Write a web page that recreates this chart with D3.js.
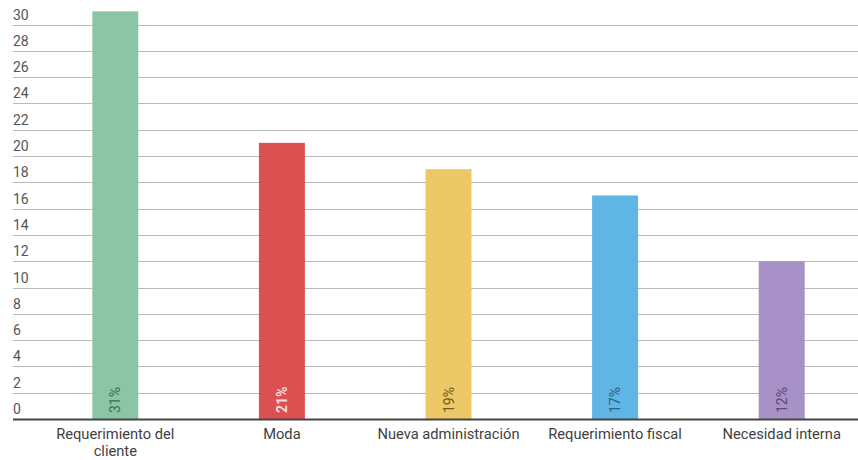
<!DOCTYPE html>
<html>
<head>
<meta charset="utf-8">
<script src="https://cdn.jsdelivr.net/npm/d3@7"></script>
<style>
  body { margin: 0; background: #fff; }
  svg { display: block; font-family: Roboto, "Noto Sans", sans-serif; }
</style>
</head>
<body>
<div id="chart"></div>
<script>
// chart data
var categories = ["Requerimiento del cliente", "Moda", "Nueva administración", "Requerimiento fiscal", "Necesidad interna"];
var values = [31, 21, 19, 17, 12];
var pctLabels = ["31%", "21%", "19%", "17%", "12%"];
var yTicks = [0, 2, 4, 6, 8, 10, 12, 14, 16, 18, 20, 22, 24, 26, 28, 30];

var barColors = ["#8cc4a6", "#db5152", "#ecc966", "#5fb5e4", "#a891c7"];
var labelColors = ["#3f6e55", "#f6dada", "#6e5b26", "#2f607f", "#5b4b73"];

var width = 858, height = 460;
var left = 13, right = 858, baseY = 419;

var svg = d3.select("#chart").append("svg")
	.attr("width", width)
	.attr("height", height);

var y = d3.scaleLinear().domain([0, 30]).range([baseY, 24.5]);
var x = d3.scaleBand()
	.domain(categories)
	.range([32, 865])
	.paddingInner(0.724)
	.paddingOuter(0.362);

// gridlines + tick labels above them
var grid = svg.append("g");
grid.selectAll("line")
	.data(yTicks.filter(d => d > 0))
	.enter().append("line")
	.attr("x1", left).attr("x2", right)
	.attr("y1", d => Math.round(y(d)) + 0.5)
	.attr("y2", d => Math.round(y(d)) + 0.5)
	.attr("stroke", "#b9b9b9")
	.attr("stroke-width", 1.2);

grid.selectAll("text")
	.data(yTicks)
	.enter().append("text")
	.attr("x", left)
	.attr("y", d => y(d) - 5)
	.attr("fill", "#555")
	.style("font-size", "14px")
	.text(d => d);

// bars
svg.append("g").selectAll("rect")
	.data(values)
	.enter().append("rect")
	.attr("x", (d, i) => x(categories[i]))
	.attr("width", x.bandwidth())
	.attr("y", d => y(d))
	.attr("height", d => baseY - y(d))
	.attr("fill", (d, i) => barColors[i]);

// baseline
svg.append("line")
	.attr("x1", left).attr("x2", right)
	.attr("y1", baseY + 0.5).attr("y2", baseY + 0.5)
	.attr("stroke", "#444")
	.attr("stroke-width", 2);

// rotated percentage labels inside bars
svg.append("g").selectAll("text")
	.data(pctLabels)
	.enter().append("text")
	.attr("transform", (d, i) => "translate(" + (x(categories[i]) + x.bandwidth() / 2 + 5) + "," + (baseY - 6) + ") rotate(-90)")
	.attr("fill", (d, i) => labelColors[i])
	.style("font-size", "14px")
	.style("font-weight", (d, i) => i == 1 ? "bold" : "normal")
	.text(d => d);

// category labels (wrap the long first one)
var catLines = [["Requerimiento del", "cliente"], ["Moda"], ["Nueva administración"], ["Requerimiento fiscal"], ["Necesidad interna"]];
var cat = svg.append("g").selectAll("text")
	.data(categories)
	.enter().append("text")
	.attr("text-anchor", "middle")
	.attr("fill", "#3f3f3f")
	.style("font-size", "14.7px")
	.attr("x", d => x(d) + x.bandwidth() / 2)
	.attr("y", 439);
cat.each(function(d, i) {
	var t = d3.select(this);
	catLines[i].forEach(function(line, j) {
		t.append("tspan")
			.attr("x", x(d) + x.bandwidth() / 2)
			.attr("dy", j == 0 ? 0 : 17)
			.text(line);
	});
});
</script>
</body>
</html>
